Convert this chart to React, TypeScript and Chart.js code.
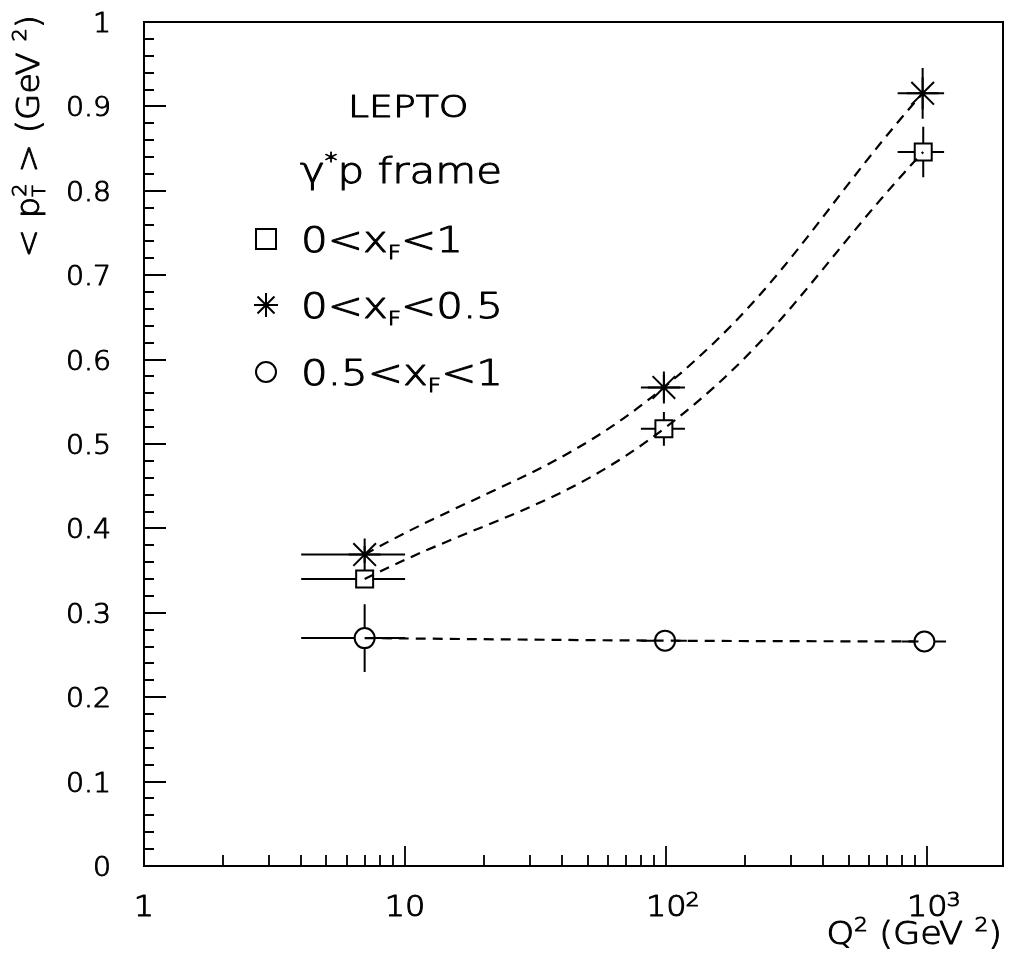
import React, { useEffect, useRef } from 'react';
import { Chart, registerables } from 'chart.js';

Chart.register(...registerables);

// ---- data ----
const Q2_SQUARE = [7, 98, 965];
const PT2_SQUARE = [0.34, 0.518, 0.846];
const Q2LO_SQUARE = [4, 80, 770];
const Q2HI_SQUARE = [10, 118, 1160];
const YERR_SQUARE = [0.005, 0.02, 0.03];

const Q2_STAR = [7, 98, 960];
const PT2_STAR = [0.369, 0.567, 0.9155];
const Q2LO_STAR = [4, 80, 770];
const Q2HI_STAR = [10, 118, 1160];
const YERR_STAR = [0.01, 0.015, 0.03];

const Q2_CIRCLE = [7, 99, 975];
const PT2_CIRCLE = [0.27, 0.267, 0.266];
const Q2LO_CIRCLE = [4, 80, 800];
const Q2HI_CIRCLE = [10, 120, 1180];
const YERR_CIRCLE = [0.04, 0.003, 0.003];

const Y_TICK_VALUES = [0, 0.1, 0.2, 0.3, 0.4, 0.5, 0.6, 0.7, 0.8, 0.9, 1];
const Y_TICK_LABELS = ['0', '0.1', '0.2', '0.3', '0.4', '0.5', '0.6', '0.7', '0.8', '0.9', '1'];
const X_TICK_VALUES = [1, 10, 100, 1000];
const X_TICK_BASES = ['1', '10', '10', '10'];
const X_TICK_EXPS = ['', '', '2', '3'];

const LEGEND_LABELS = [
  [{ t: '0<x', sub: 'F' }, { t: '<1' }],
  [{ t: '0<x', sub: 'F' }, { t: '<0.5' }],
  [{ t: '0.5<x', sub: 'F' }, { t: '<1' }],
];
const LEGEND_STYLES = ['rect', 'star', 'circle'];

const FONT = '"DejaVu Sans", "Liberation Sans", sans-serif';
const WEIGHT = '200';
const TEXT_STROKE = 1.0;

type Seg = { t: string; sup?: string; sub?: string };

function f(size: number) {
  return `${WEIGHT} ${size}px ${FONT}`;
}

function segWidth(ctx: CanvasRenderingContext2D, s: Seg, size: number, supScale: number) {
  ctx.font = f(size);
  const w = ctx.measureText(s.t).width;
  let extra = 0;
  if (s.sup) {
    ctx.font = f(size * supScale);
    extra = Math.max(extra, ctx.measureText(s.sup).width);
  }
  if (s.sub) {
    ctx.font = f(size * 0.55);
    extra = Math.max(extra, ctx.measureText(s.sub).width);
  }
  return w + extra;
}

function put(ctx: CanvasRenderingContext2D, t: string, x: number, y: number) {
  ctx.fillText(t, x, y);
  ctx.strokeText(t, x, y);
}

function drawRich(
  ctx: CanvasRenderingContext2D,
  segs: Seg[],
  x: number,
  y: number,
  size: number,
  align: 'left' | 'right' | 'center',
  sx = 1,
  supScale = 0.6
) {
  ctx.save();
  ctx.textAlign = 'left';
  ctx.textBaseline = 'alphabetic';
  ctx.fillStyle = '#000';
  ctx.strokeStyle = '#000';
  ctx.lineWidth = TEXT_STROKE;
  ctx.lineJoin = 'round';
  ctx.setLineDash([]);
  const w = segs.reduce((a, s) => a + segWidth(ctx, s, size, supScale), 0) * sx;
  let start = x;
  if (align === 'right') start = x - w;
  if (align === 'center') start = x - w / 2;
  ctx.translate(start, y);
  ctx.scale(sx, 1);
  let cx = 0;
  for (const s of segs) {
    ctx.font = f(size);
    put(ctx, s.t, cx, 0);
    cx += ctx.measureText(s.t).width;
    let extra = 0;
    if (s.sup) {
      ctx.font = f(size * supScale);
      put(ctx, s.sup, cx, -size * 0.42);
      extra = Math.max(extra, ctx.measureText(s.sup).width);
    }
    if (s.sub) {
      ctx.font = f(size * 0.55);
      put(ctx, s.sub, cx, size * 0.2);
      extra = Math.max(extra, ctx.measureText(s.sub).width);
    }
    cx += extra;
  }
  ctx.restore();
}

function drawMarker(ctx: CanvasRenderingContext2D, style: string, x: number, y: number, r: number) {
  ctx.beginPath();
  if (style === 'rect') {
    ctx.rect(x - r, y - r, 2 * r, 2 * r);
  } else if (style === 'circle') {
    ctx.arc(x, y, r, 0, Math.PI * 2);
  } else {
    ctx.moveTo(x - r, y);
    ctx.lineTo(x + r, y);
    ctx.moveTo(x, y - r);
    ctx.lineTo(x, y + r);
    const d = r * Math.SQRT1_2;
    ctx.moveTo(x - d, y - d);
    ctx.lineTo(x + d, y + d);
    ctx.moveTo(x - d, y + d);
    ctx.lineTo(x + d, y - d);
  }
  ctx.stroke();
}

const ERROR_SETS = [
  { xs: Q2_SQUARE, ys: PT2_SQUARE, lo: Q2LO_SQUARE, hi: Q2HI_SQUARE, ye: YERR_SQUARE, gap: 8.5 },
  { xs: Q2_STAR, ys: PT2_STAR, lo: Q2LO_STAR, hi: Q2HI_STAR, ye: YERR_STAR, gap: 0 },
  { xs: Q2_CIRCLE, ys: PT2_CIRCLE, lo: Q2LO_CIRCLE, hi: Q2HI_CIRCLE, ye: YERR_CIRCLE, gap: 10 },
];

const framePlugin = {
  id: 'rootFrame',
  afterDatasetsDraw(chart: any) {
    const ctx: CanvasRenderingContext2D = chart.ctx;
    const xs = chart.scales.x;
    const ys = chart.scales.y;
    ctx.save();
    ctx.strokeStyle = '#000';
    ctx.lineWidth = 2;
    ctx.setLineDash([]);
    for (const set of ERROR_SETS) {
      for (let i = 0; i < set.xs.length; i++) {
        const px = xs.getPixelForValue(set.xs[i]);
        const py = ys.getPixelForValue(set.ys[i]);
        const pl = xs.getPixelForValue(set.lo[i]);
        const ph = xs.getPixelForValue(set.hi[i]);
        const pt = ys.getPixelForValue(set.ys[i] + set.ye[i]);
        const pb = ys.getPixelForValue(set.ys[i] - set.ye[i]);
        ctx.beginPath();
        if (px - set.gap > pl) {
          ctx.moveTo(pl, py);
          ctx.lineTo(px - set.gap, py);
        }
        if (ph > px + set.gap) {
          ctx.moveTo(px + set.gap, py);
          ctx.lineTo(ph, py);
        }
        if (py - set.gap > pt) {
          ctx.moveTo(px, pt);
          ctx.lineTo(px, py - set.gap);
        }
        if (pb > py + set.gap) {
          ctx.moveTo(px, py + set.gap);
          ctx.lineTo(px, pb);
        }
        ctx.stroke();
      }
    }
    ctx.restore();
  },
  afterDraw(chart: any) {
    const ctx: CanvasRenderingContext2D = chart.ctx;
    const { left, right, top, bottom } = chart.chartArea;
    const xs = chart.scales.x;
    const ys = chart.scales.y;
    ctx.save();
    ctx.strokeStyle = '#000';
    ctx.lineWidth = 2;
    ctx.setLineDash([]);
    ctx.strokeRect(left, top, right - left, bottom - top);

    // y ticks (inside, on left axis)
    ctx.lineWidth = 1.8;
    ctx.beginPath();
    for (let i = 1; i < 50; i++) {
      const py = Math.round(ys.getPixelForValue(i / 50));
      const len = i % 5 === 0 ? 22 : 10;
      ctx.moveTo(left, py);
      ctx.lineTo(left + len, py);
    }
    // x ticks (inside, on bottom axis)
    const xmax = xs.max;
    for (let d = 0; d < 4; d++) {
      for (let k = 1; k <= 9; k++) {
        const v = k * Math.pow(10, d);
        if (v <= 1 || v >= xmax) continue;
        const px = Math.round(xs.getPixelForValue(v));
        const len = k === 1 ? 20 : 11;
        ctx.moveTo(px, bottom);
        ctx.lineTo(px, bottom - len);
      }
    }
    ctx.stroke();

    // y tick labels
    Y_TICK_VALUES.forEach((v, i) => {
      const py = ys.getPixelForValue(v);
      drawRich(ctx, [{ t: Y_TICK_LABELS[i] }], 111, py + 10, 27, 'right', 1.05);
    });

    // x tick labels
    X_TICK_VALUES.forEach((v, i) => {
      const px = xs.getPixelForValue(v);
      const size = 29;
      const sx = 1.1;
      ctx.font = f(size);
      const bw = ctx.measureText(X_TICK_BASES[i]).width * sx;
      drawRich(ctx, [{ t: X_TICK_BASES[i] }], px, 916, size, 'center', sx);
      if (X_TICK_EXPS[i]) {
        drawRich(ctx, [{ t: X_TICK_EXPS[i] }], px + bw / 2 - 1, 906, size * 0.7, 'left', sx);
      }
    });

    // axis titles
    drawRich(ctx, [{ t: 'Q', sup: '2' }, { t: ' (GeV ', sup: '2' }, { t: ')' }], 1002, 944, 32, 'right', 1.1, 0.62);
    ctx.save();
    ctx.translate(39, 15);
    ctx.rotate(-Math.PI / 2);
    drawRich(ctx, [{ t: '< p', sup: '2', sub: 'T' }, { t: ' > (GeV ', sup: '2' }, { t: ')' }], 0, 0, 32, 'right', 1.06, 0.62);
    ctx.restore();

    // in-plot legend
    drawRich(ctx, [{ t: 'LEPTO' }], 348, 117, 30, 'left', 1.26);
    drawRich(ctx, [{ t: 'γ', sup: '*' }, { t: 'p frame' }], 300, 183, 35, 'left', 1.2);
    const ly = [239, 305, 372];
    LEGEND_LABELS.forEach((segs, i) => {
      ctx.lineWidth = 2;
      ctx.strokeStyle = '#000';
      const r = LEGEND_STYLES[i] === 'rect' ? 10 : LEGEND_STYLES[i] === 'circle' ? 10 : 12;
      drawMarker(ctx, LEGEND_STYLES[i], 266, ly[i], r);
      drawRich(ctx, segs as Seg[], 301, ly[i] + 13, 35, 'left', 1.2);
    });
    ctx.restore();
  },
};

function makeDataset(label: string, xs: number[], ys: number[], style: string, radius: number) {
  return {
    label,
    data: xs.map((x, i) => ({ x, y: ys[i] })),
    showLine: true,
    borderColor: '#000',
    borderWidth: 2.2,
    borderDash: [10, 7],
    tension: 0.4,
    fill: false,
    pointStyle: style,
    pointRadius: radius,
    pointBorderWidth: 2,
    pointBorderColor: '#000',
    pointBackgroundColor: 'rgba(0,0,0,0)',
  };
}

export default function App() {
  const ref = useRef<HTMLCanvasElement | null>(null);
  useEffect(() => {
    if (!ref.current) return;
    const chart = new Chart(ref.current, {
      type: 'scatter',
      data: {
        datasets: [
          makeDataset('0<xF<1', Q2_SQUARE, PT2_SQUARE, 'rect', 12),
          makeDataset('0<xF<0.5', Q2_STAR, PT2_STAR, 'star', 16),
          makeDataset('0.5<xF<1', Q2_CIRCLE, PT2_CIRCLE, 'circle', 10),
        ],
      },
      options: {
        animation: false,
        responsive: false,
        devicePixelRatio: 1,
        layout: { autoPadding: false, padding: { left: 144, right: 7, top: 22, bottom: 95 } },
        plugins: { legend: { display: false }, tooltip: { enabled: false } },
        scales: {
          x: { type: 'logarithmic', min: 1, max: 1950, display: false },
          y: { type: 'linear', min: 0, max: 1, display: false },
        },
      },
      plugins: [framePlugin],
    } as any);
    return () => chart.destroy();
  }, []);
  return (
    <div style={{ position: 'absolute', left: 0, top: 0, width: 1010, height: 961, background: '#fff' }}>
      <canvas ref={ref} width={1010} height={961} style={{ width: 1010, height: 961, display: 'block' }} />
    </div>
  );
}
